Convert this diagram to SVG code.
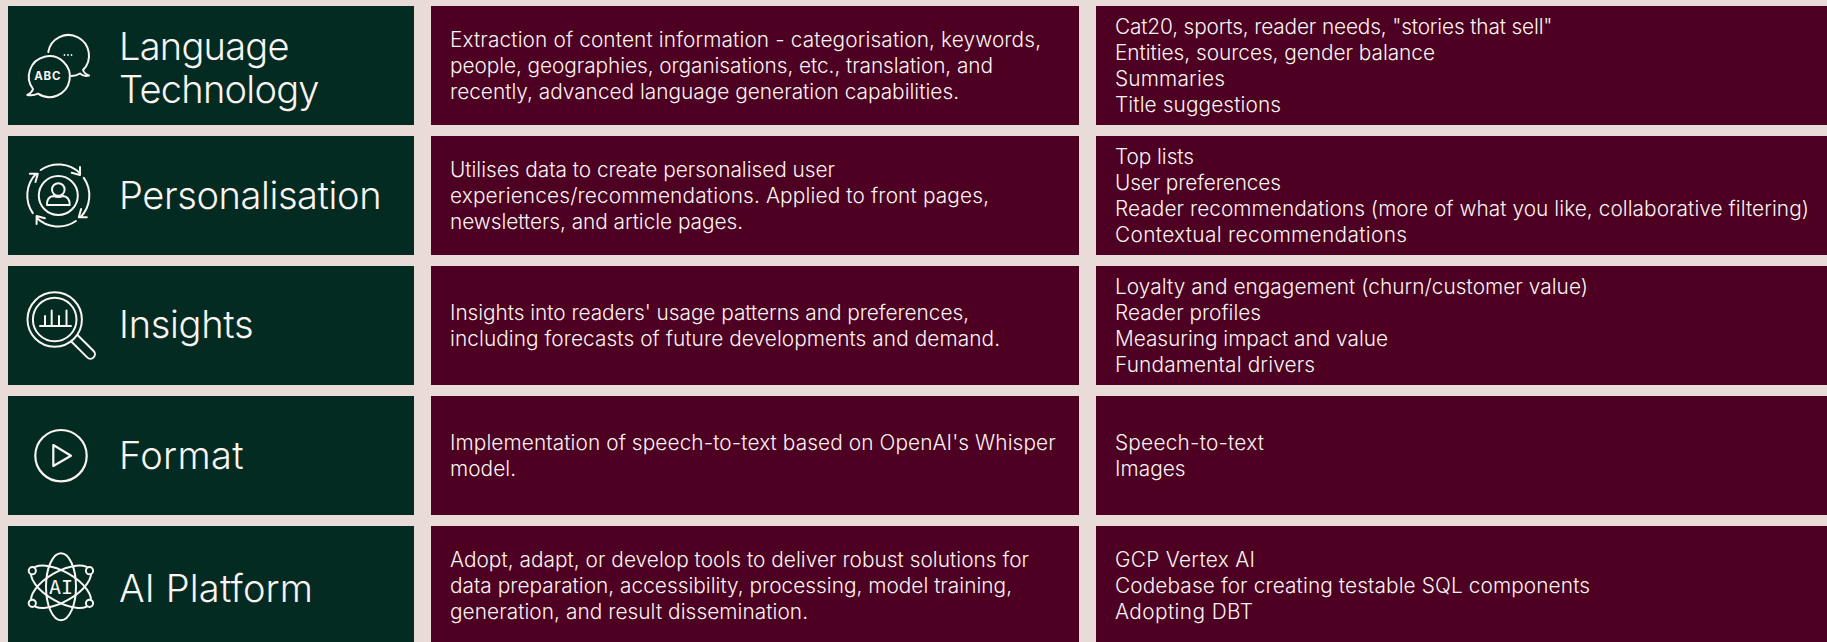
<svg xmlns="http://www.w3.org/2000/svg" xmlns:xlink="http://www.w3.org/1999/xlink" width="1827" height="642" viewBox="0 0 1827 642">
<style>
.g{fill:#032b22}.m{fill:#4d0021}
text{font-family:"Inter","Noto Sans","Liberation Sans",sans-serif;fill:#faf4f2}
.t{font-size:38px;font-weight:300}
.b{font-size:20.8px;font-weight:350}
.i{fill:none;stroke:#faf4f2;stroke-width:2;stroke-linecap:round;stroke-linejoin:round}
</style>
<defs>
<g id="arc"><path d="M-17.6-25.5A31 31 0 0 1 21.7-22.2M13.4-22.8L21.7-20.5V-28.5"/></g>
</defs>
<rect width="1827" height="642" fill="#e9dcd8"/>
<g id="connectors"/>
<g id="language-technology">
<rect class="g" x="8" y="6" width="406" height="119"/>
<g class="i">
<path d="M33 89A20.5 20.5 0 1 1 38 93.7Q33 96 27.3 95Q32 92.5 33 89Z"/>
<path d="M48.3 52A20.5 20.5 0 1 1 83 70Q84.5 74 89 75.5Q84 77 80 73.5Q76 76 71.5 76"/>
</g>
<g fill="#faf4f2"><circle cx="64.5" cy="55" r=".9"/><circle cx="68" cy="55" r=".9"/><circle cx="71.5" cy="55" r=".9"/></g>
<text x="47.8" y="79.6" text-anchor="middle" style="font-size:11.5px;font-weight:700;letter-spacing:.8px">ABC</text>
<text class="t" x="119" y="60" textLength="170.5">Language</text>
<text class="t" x="119" y="102.8" textLength="200.5">Technology</text>
</g>
<g id="language-technology-desc">
<rect class="m" x="431" y="6" width="648" height="119"/>
<text class="b" x="450" y="46.7" textLength="591">Extraction of content information - categorisation, keywords,</text>
<text class="b" x="450" y="72.7" textLength="543">people, geographies, organisations, etc., translation, and</text>
<text class="b" x="450" y="98.7" textLength="509">recently, advanced language generation capabilities.</text>
</g>
<g id="language-technology-items">
<rect class="m" x="1096" y="6" width="731" height="119"/>
<text class="b" x="1115" y="33.7" textLength="437.5">Cat20, sports, reader needs, "stories that sell"</text>
<text class="b" x="1115" y="59.7" textLength="320">Entities, sources, gender balance</text>
<text class="b" x="1115" y="85.7" textLength="110">Summaries</text>
<text class="b" x="1115" y="111.7" textLength="166">Title suggestions</text>
</g>
<g id="personalisation">
<rect class="g" x="8" y="136" width="406" height="119"/>
<g class="i">
<g transform="translate(58.3 195.5)"><use xlink:href="#arc" href="#arc"/><use xlink:href="#arc" href="#arc" transform="rotate(90)"/><use xlink:href="#arc" href="#arc" transform="rotate(180)"/><use xlink:href="#arc" href="#arc" transform="rotate(270)"/></g>
<circle cx="58.3" cy="195.5" r="19.5"/>
<circle cx="58.3" cy="189.5" r="6.3"/>
<path d="M47 205Q46.5 197 53.5 196Q58.3 198 63 196Q70 197 69.7 205Z"/>
</g>
<text class="t" x="119" y="209.3" textLength="262.5">Personalisation</text>
</g>
<g id="personalisation-desc">
<rect class="m" x="431" y="136" width="648" height="119"/>
<text class="b" x="450" y="176.7" textLength="385">Utilises data to create personalised user</text>
<text class="b" x="450" y="202.7" textLength="539">experiences/recommendations. Applied to front pages,</text>
<text class="b" x="450" y="228.7" textLength="293">newsletters, and article pages.</text>
</g>
<g id="personalisation-items">
<rect class="m" x="1096" y="136" width="731" height="119"/>
<text class="b" x="1115" y="163.7" textLength="79">Top lists</text>
<text class="b" x="1115" y="189.7" textLength="166">User preferences</text>
<text class="b" x="1115" y="215.7" textLength="694">Reader recommendations (more of what you like, collaborative filtering)</text>
<text class="b" x="1115" y="241.7" textLength="292">Contextual recommendations</text>
</g>
<g id="insights">
<rect class="g" x="8" y="266" width="406" height="119"/>
<g class="i">
<circle cx="54.7" cy="319.5" r="27.2"/>
<circle cx="54.7" cy="319.5" r="21.8"/>
<path d="M77.5 335L93.6 351A4.5 4.5 0 0 1 87.2 357.4L71.3 341.5"/>
<path d="M40 326H71M45 326V316M51.7 326V310.5M59 326V316M66.5 326V310.5"/>
</g>
<text class="t" x="119" y="338.3" textLength="134.5">Insights</text>
</g>
<g id="insights-desc">
<rect class="m" x="431" y="266" width="648" height="119"/>
<text class="b" x="450" y="320" textLength="519">Insights into readers' usage patterns and preferences,</text>
<text class="b" x="450" y="346" textLength="550">including forecasts of future developments and demand.</text>
</g>
<g id="insights-items">
<rect class="m" x="1096" y="266" width="731" height="119"/>
<text class="b" x="1115" y="293.7" textLength="473">Loyalty and engagement (churn/customer value)</text>
<text class="b" x="1115" y="319.7" textLength="146">Reader profiles</text>
<text class="b" x="1115" y="345.7" textLength="273">Measuring impact and value</text>
<text class="b" x="1115" y="371.7" textLength="200">Fundamental drivers</text>
</g>
<g id="format">
<rect class="g" x="8" y="396" width="406" height="119"/>
<g class="i" style="stroke-width:2.2">
<circle cx="61" cy="455.7" r="25.7"/>
<path d="M53.3 445L71 455.7L53.3 466Z"/>
</g>
<text class="t" x="119" y="469.3" textLength="124.5">Format</text>
</g>
<g id="format-desc">
<rect class="m" x="431" y="396" width="648" height="119"/>
<text class="b" x="450" y="450" textLength="605.7">Implementation of speech-to-text based on OpenAI's Whisper</text>
<text class="b" x="450" y="476" textLength="66">model.</text>
</g>
<g id="format-items">
<rect class="m" x="1096" y="396" width="731" height="119"/>
<text class="b" x="1115" y="450" textLength="149">Speech-to-text</text>
<text class="b" x="1115" y="476" textLength="70.6">Images</text>
</g>
<g id="ai-platform">
<rect class="g" x="8" y="526" width="406" height="116"/>
<g class="i">
<ellipse cx="61" cy="586.7" rx="15" ry="33.5"/>
<ellipse cx="61" cy="586.7" rx="15" ry="33.5" transform="rotate(60 61 586.7)"/>
<ellipse cx="61" cy="586.7" rx="15" ry="33.5" transform="rotate(-60 61 586.7)"/>
<g fill="#032b22"><circle cx="32.3" cy="570.7" r="3.6"/><circle cx="89.5" cy="570.7" r="3.6"/><circle cx="32.3" cy="603.3" r="3.6"/><circle cx="89.5" cy="603.3" r="3.6"/></g>
</g>
<text x="61" y="594.3" text-anchor="middle" style="font-family:'DejaVu Sans Mono',monospace;font-size:20px">AI</text>
<text class="t" x="119" y="601.5" textLength="194">AI Platform</text>
</g>
<g id="ai-platform-desc">
<rect class="m" x="431" y="526" width="648" height="116"/>
<text class="b" x="450" y="566.7" textLength="579">Adopt, adapt, or develop tools to deliver robust solutions for</text>
<text class="b" x="450" y="592.7" textLength="562">data preparation, accessibility, processing, model training,</text>
<text class="b" x="450" y="618.7" textLength="358">generation, and result dissemination.</text>
</g>
<g id="ai-platform-items">
<rect class="m" x="1096" y="526" width="731" height="116"/>
<text class="b" x="1115" y="566.7" textLength="140">GCP Vertex AI</text>
<text class="b" x="1115" y="592.7" textLength="475">Codebase for creating testable SQL components</text>
<text class="b" x="1115" y="618.7" textLength="138">Adopting DBT</text>
</g>
</svg>
